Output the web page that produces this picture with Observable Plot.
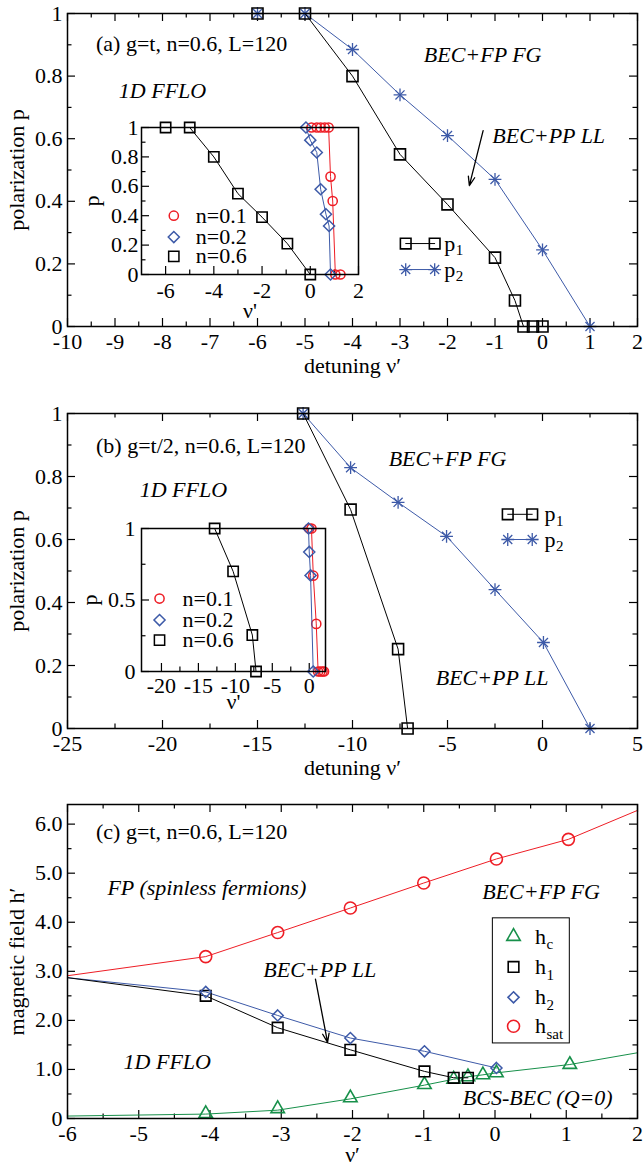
<!DOCTYPE html>
<html><head><meta charset="utf-8">
<script src="https://cdn.jsdelivr.net/npm/d3@7"></script>
<script src="https://cdn.jsdelivr.net/npm/@observablehq/plot@0.6"></script>
<style>
body{margin:0;background:#fff;}
#root{position:relative;width:643px;height:1167px;overflow:hidden;background:#fff;}
#root svg{position:absolute;font-family:"Liberation Serif","Times New Roman",serif;background:transparent;overflow:visible;}
</style></head><body><div id="root"></div>
<script>
// ---------------- DATA ----------------
// Panel (a): g=t
const aTicksX = [-10,-9,-8,-7,-6,-5,-4,-3,-2,-1,0,1,2];
const aMinorX = [-9.5,-8.5,-7.5,-6.5,-5.5,-4.5,-3.5,-2.5,-1.5,-0.5,0.5,1.5];
const aTicksY = [0,0.2,0.4,0.6,0.8,1];
const aMinorY = [0.1,0.3,0.5,0.7,0.9];
const aP1X = [-6,-5,-4,-3,-2,-1,-0.58,-0.4,-0.2,0];
const aP1Y = [1,1,0.8,0.55,0.39,0.22,0.083,0,0,0];
const aP2X = [-6,-5,-4,-3,-2,-1,0,1];
const aP2Y = [1,1,0.885,0.74,0.61,0.47,0.245,0];
// inset (a)
const aiTicksX = [-6,-4,-2,0,2];
const aiMinorX = [-5,-3,-1,1];
const aiTicksY = [0,0.2,0.4,0.6,0.8,1];
const aiMinorY = [0.1,0.3,0.5,0.7,0.9];
const aiN06X = [-6,-5,-4,-3,-2,-0.95,0];
const aiN06Y = [1,1,0.8,0.55,0.39,0.21,0];
const aiN02X = [-0.18,0.0,0.27,0.43,0.65,0.78,0.84];
const aiN02Y = [1,0.914,0.83,0.58,0.41,0.33,0];
const aiN01X = [0.05,0.27,0.43,0.6,0.76,0.84,0.93,1.04,1.25];
const aiN01Y = [1,1,1,1,1,0.666,0.5,0,0];

// Panel (b): g=t/2
const bTicksX = [-25,-20,-15,-10,-5,0,5];
const bMinorX = [-22.5,-17.5,-12.5,-7.5,-2.5,2.5];
const bTicksY = [0,0.2,0.4,0.6,0.8,1];
const bMinorY = [0.1,0.3,0.5,0.7,0.9];
const bP1X = [-12.6,-10.1,-7.6,-7.1];
const bP1Y = [1,0.695,0.252,0];
const bP2X = [-12.6,-10.1,-7.6,-5.05,-2.5,0.05,2.5];
const bP2Y = [1,0.828,0.718,0.61,0.441,0.273,0];
// inset (b)
const biTicksX = [-20,-15,-10,-5,0];
const biMinorX = [-17.5,-12.5,-7.5,-2.5];
const biTicksY = [0,0.5,1];
const biMinorY = [0.25,0.75];
const biN06X = [-12.8,-10.3,-7.7,-7.2];
const biN06Y = [1,0.7,0.255,0];
const biN02X = [-0.1,0.0,0.18,0.54];
const biN02Y = [1,0.836,0.672,0];
const biN01X = [0.0,0.3,0.55,0.95,1.2,1.5,1.8,2.0];
const biN01Y = [1,1,0.67,0.333,0,0,0,0];

// Panel (c): phase diagram
const cTicksX = [-6,-5,-4,-3,-2,-1,0,1,2];
const cMinorX = [-5.5,-4.5,-3.5,-2.5,-1.5,-0.5,0.5,1.5];
const cTicksY = [0,1,2,3,4,5,6];
const cMinorY = [0.5,1.5,2.5,3.5,4.5,5.5];
const hsatX = [-4.06,-3.05,-2.03,-1.0,0.02,1.03];
const hsatY = [3.3,3.79,4.29,4.8,5.29,5.69];
const hsatLineX = [-6,-4.06,-3.05,-2.03,-1.0,0.02,1.03,2];
const hsatLineY = [2.91,3.3,3.79,4.29,4.8,5.29,5.69,6.28];
const h1X = [-4.06,-3.05,-2.03,-0.99,-0.58,-0.38];
const h1Y = [2.5,1.85,1.4,0.96,0.83,0.83];
const h1LineX = [-6,-4.06,-3.05,-2.03,-0.99,-0.58,-0.38];
const h1LineY = [2.87,2.5,1.85,1.4,0.96,0.83,0.83];
const h2X = [-4.06,-3.05,-2.03,-0.99,0.02];
const h2Y = [2.58,2.1,1.64,1.37,1.03];
const h2LineX = [-6,-4.06,-3.05,-2.03,-0.99,0.02];
const h2LineY = [2.87,2.58,2.1,1.64,1.37,1.03];
const hcX = [-4.06,-3.05,-2.03,-0.99,-0.58,-0.38,-0.17,0.02,1.05];
const hcY = [0.1,0.2,0.42,0.69,0.8,0.85,0.89,0.93,1.1];
const hcLineX = [-6,-4.06,-3.05,-2.03,-0.99,-0.58,-0.38,-0.17,0.02,1.05,2];
const hcLineY = [0.05,0.09,0.17,0.4,0.68,0.8,0.85,0.89,0.93,1.1,1.34];

// Text
const aNoteText = ["(a) g=t, n=0.6, L=120","BEC+FP FG","1D FFLO","BEC+PP LL"];
const bNoteText = ["(b) g=t/2, n=0.6, L=120","BEC+FP FG","1D FFLO","BEC+PP LL"];
const cNoteText = ["(c) g=t, n=0.6, L=120","FP (spinless fermions)","BEC+FP FG","BEC+PP LL","1D FFLO","BCS-BEC (Q=0)"];
const pLegend = ["p","p"], pLegendSub = ["1","2"];
const nLegend = ["n=0.1","n=0.2","n=0.6"];
const hLegend = ["h","h","h","h"], hLegendSub = ["c","1","2","sat"];

// ---------------- DRAWING ----------------
const BLUE = "#3d5aa8", RED = "#ee1d25", GREEN = "#17904a";
const FONT = "Liberation Serif";
const FS = 22, SUB = 15;
const root = document.getElementById("root");
const pts = (xs, ys) => xs.map((x, i) => ({x, y: ys[i]}));

function place(svg, left, top) {
  svg.style.left = left + "px"; svg.style.top = top + "px";
  root.appendChild(svg);
}

function panel(cfg) {
  const {W, H, ml, mr, mt, mb, xDomain, yDomain, xMaj, xMin, yMaj, yMin, xFmt, yFmt, mirror, marks} = cfg;
  const majLen = cfg.majLen ?? 8, minLen = cfg.minLen ?? 4.5;
  const iw = W - ml - mr, ih = H - mt - mb;
  const tk = (arr, len, side) => {
    const o = {stroke: "black", strokeWidth: 1.2};
    if (side === "bottom") return Plot.tickX(arr, {x: d => d, insetTop: ih - len, ...o});
    if (side === "top") return Plot.tickX(arr, {x: d => d, insetBottom: ih - len, ...o});
    if (side === "left") return Plot.tickY(arr, {y: d => d, insetRight: iw - len, ...o});
    return Plot.tickY(arr, {y: d => d, insetLeft: iw - len, ...o});
  };
  const sides = mirror ? ["bottom", "top", "left", "right"] : ["bottom", "left"];
  const T = [];
  for (const s of sides) {
    const isX = s === "bottom" || s === "top";
    T.push(tk(isX ? xMaj : yMaj, majLen, s), tk(isX ? xMin : yMin, minLen, s));
  }
  return Plot.plot({
    width: W, height: H, marginLeft: ml, marginRight: mr, marginTop: mt, marginBottom: mb,
    x: {domain: xDomain, label: null},
    y: {domain: yDomain, label: null},
    style: `font-family: 'Liberation Serif', serif; font-size: ${FS}px; background: transparent; overflow: visible; color: black;`,
    marks: [
      ...T,
      Plot.axisX(xMaj, {tickSize: 0, tickPadding: cfg.xPad ?? 7, tickFormat: xFmt, fontSize: FS, fontFamily: FONT, label: null, fill: "black"}),
      Plot.axisY(yMaj, {tickSize: 0, tickPadding: cfg.yPad ?? 5, tickFormat: yFmt, fontSize: FS, fontFamily: FONT, label: null, fill: "black"}),
      ...marks,
      Plot.frame({stroke: "black", strokeWidth: 1.5})
    ]
  });
}

const str = d => String(d);
function series(p, color, symbol, r, sw = 1.6) {
  return [
    Plot.line(p, {x: "x", y: "y", stroke: color, strokeWidth: 1}),
    ...dots(p, color, symbol, r, sw)
  ];
}
function dots(p, color, symbol, r, sw = 1.6) {
  if (symbol === "star") return [
    Plot.dot(p, {x: "x", y: "y", symbol: "plus", r, stroke: color, strokeWidth: 1.3}),
    Plot.dot(p, {x: "x", y: "y", symbol: "times", r, stroke: color, strokeWidth: 1.3})
  ];
  return [Plot.dot(p, {x: "x", y: "y", symbol, r, stroke: color, strokeWidth: sw, fill: "none"})];
}
function xyText(t, x, y, o) { return Plot.text([t], {x: () => x, y: () => y, text: d => d, fontFamily: FONT, lineAnchor: "middle", ...o}); }
function fixNotes(texts, at) {
  return texts.map((t, i) => xyText(t, at[i][0], at[i][1], {textAnchor: at[i][2], fontSize: FS,
    fontStyle: at[i][3] ? "italic" : "normal", fill: "black"}));
}
function axisLabels(xl, yl, xdy, ydx, size = FS) {
  return [
    Plot.text([xl], {frameAnchor: "bottom", dy: xdy, text: d => d, fontSize: size, fontFamily: FONT, fill: "black", textAnchor: "middle", lineAnchor: "middle"}),
    Plot.text([yl], {frameAnchor: "left", dx: ydx, rotate: -90, text: d => d, fontSize: size, fontFamily: FONT, fill: "black", textAnchor: "middle", lineAnchor: "middle"})
  ];
}
function arrow(x1, y1, x2, y2) {
  return Plot.arrow([0], {x1: () => x1, y1: () => y1, x2: () => x2, y2: () => y2,
    stroke: "black", strokeWidth: 1.3, headLength: 11, headAngle: 40});
}
function pLegendMarks(x1, x2, xt, ys) {
  const m = [];
  const styles = [["black", "square", 6], [BLUE, "star", 4.2]];
  ys.forEach((y, i) => {
    const [c, s, r] = styles[i];
    const seg = [{x: x1, y}, {x: x2, y}];
    m.push(Plot.line(seg, {x: "x", y: "y", stroke: c, strokeWidth: 1}), ...dots(seg, c, s, r));
    m.push(xyText(pLegend[i], xt, y, {textAnchor: "start", fontSize: FS, fill: "black"}));
    m.push(xyText(pLegendSub[i], xt, y, {textAnchor: "start", fontSize: SUB, dx: 11.5, dy: 7, fill: "black"}));
  });
  return m;
}
function nLegendMarks(xm, xt, ys, rs) {
  const styles = [[RED, "circle"], [BLUE, "diamond2"], ["black", "square"]];
  const m = [];
  ys.forEach((y, i) => {
    m.push(...dots([{x: xm, y}], styles[i][0], styles[i][1], rs[i], 1.5));
    m.push(xyText(nLegend[i], xt, y, {textAnchor: "start", fontSize: FS, fill: "black"}));
  });
  return m;
}

// ---- Panel (a)
const svgA = panel({
  W: 643, H: 380, ml: 67, mr: 6, mt: 13, mb: 54,
  xDomain: [-10, 2], yDomain: [0, 1],
  xMaj: aTicksX, xMin: aMinorX, yMaj: aTicksY, yMin: aMinorY, xFmt: str, yFmt: str, mirror: true,
  marks: [
    ...series(pts(aP2X, aP2Y), BLUE, "star", 4.2),
    ...series(pts(aP1X, aP1Y), "black", "square", 6.2),
    ...fixNotes(aNoteText, [[-9.4, 0.904, "start", 0], [-1.26, 0.866, "middle", 1], [-8.0, 0.754, "middle", 1], [0.13, 0.61, "middle", 1]]),
    arrow(-1.25, 0.626, -1.54, 0.45),
    ...pLegendMarks(-2.88, -2.27, -2.07, [0.265, 0.182]),
    ...axisLabels("detuning \u03bd\u2032", "polarization p", 39, -51)
  ]
});
place(svgA, 0, 0);

// ---- Panel (b)
const svgB = panel({
  W: 643, H: 410, ml: 67, mr: 6, mt: 33, mb: 62,
  xDomain: [-25, 5], yDomain: [0, 1],
  xMaj: bTicksX, xMin: bMinorX, yMaj: bTicksY, yMin: bMinorY, xFmt: str, yFmt: str, mirror: true,
  marks: [
    ...series(pts(bP2X, bP2Y), BLUE, "star", 4.2),
    ...series(pts(bP1X, bP1Y), "black", "square", 6.2),
    ...fixNotes(bNoteText, [[-23.5, 0.898, "start", 0], [-5.0, 0.857, "middle", 1], [-18.9, 0.758, "middle", 1], [-2.65, 0.159, "middle", 1]]),
    ...pLegendMarks(-1.83, -0.54, 0.1, [0.68, 0.6]),
    ...axisLabels("detuning \u03bd\u2032", "polarization p", 39, -51)
  ]
});
place(svgB, 0, 380);

// ---- Panel (c)
const legBox = {x1: -0.03, x2: 1.05, y1: 1.53, y2: 4.08};
const svgC = panel({
  W: 643, H: 377, ml: 67, mr: 6, mt: 14, mb: 49,
  xDomain: [-6, 2], yDomain: [0, 6.4],
  xMaj: cTicksX, xMin: cMinorX, yMaj: cTicksY, yMin: cMinorY, xFmt: str,
  yFmt: d => d === 0 ? "0" : d.toFixed(1), mirror: true,
  marks: [
    Plot.line(pts(hsatLineX, hsatLineY), {x: "x", y: "y", stroke: RED, strokeWidth: 1}),
    Plot.line(pts(hcLineX, hcLineY), {x: "x", y: "y", stroke: GREEN, strokeWidth: 1}),
    Plot.line(pts(h2LineX, h2LineY), {x: "x", y: "y", stroke: BLUE, strokeWidth: 1}),
    Plot.line(pts(h1LineX, h1LineY), {x: "x", y: "y", stroke: "black", strokeWidth: 1}),
    ...dots(pts(hcX, hcY), GREEN, "triangle", 5, 1.6),
    ...dots(pts(h1X, h1Y), "black", "square", 6, 1.6),
    ...dots(pts(h2X, h2Y), BLUE, "diamond2", 5, 1.5),
    ...dots(pts(hsatX, hsatY), RED, "circle", 6, 1.6),
    ...fixNotes(cNoteText, [[-5.6, 5.84, "start", 0], [-5.44, 4.69, "start", 1], [-0.18, 4.61, "start", 1],
      [-2.46, 3.02, "middle", 1], [-4.6, 1.15, "middle", 1], [0.6, 0.41, "middle", 1]]),
    arrow(-2.52, 2.84, -2.35, 1.55),
    Plot.rect([legBox], {x1: "x1", x2: "x2", y1: "y1", y2: "y2", fill: "white", stroke: "black", strokeWidth: 1}),
    ...[[GREEN, "triangle", 5], ["black", "square", 6], [BLUE, "diamond2", 5], [RED, "circle", 6]].flatMap(([c, s, r], i) => {
      const ly = [3.71, 3.09, 2.47, 1.88][i];
      return [
        ...dots([{x: 0.26, y: ly}], c, s, r, 1.6),
        xyText(hLegend[i], 0.56, ly, {textAnchor: "start", fontSize: FS, fill: "black"}),
        xyText(hLegendSub[i], 0.56, ly, {textAnchor: "start", fontSize: SUB, dx: 11.5, dy: 8, fill: "black"})
      ];
    }),
    ...axisLabels("\u03bd\u2032", "magnetic field h\u2032", 36, -51)
  ]
});
place(svgC, 0, 790);

// ---- Inset (a)
const svgAi = panel({
  W: 295, H: 210, ml: 66, mr: 12, mt: 15, mb: 48,
  xDomain: [-7, 2], yDomain: [0, 1],
  xMaj: aiTicksX, xMin: aiMinorX, yMaj: aiTicksY, yMin: aiMinorY, xFmt: str, yFmt: str, mirror: false,
  xPad: 8, yPad: 3, majLen: 8, minLen: 4.5,
  marks: [
    ...series(pts(aiN01X, aiN01Y), RED, "circle", 4.6, 1.5),
    ...series(pts(aiN02X, aiN02Y), BLUE, "diamond2", 5, 1.5),
    ...series(pts(aiN06X, aiN06Y), "black", "square", 5.8, 1.6),
    ...nLegendMarks(-5.66, -4.75, [0.40, 0.255, 0.124], [4.6, 5, 5.8]),
    ...axisLabels("\u03bd'", "p", 36, -50)
  ]
});
place(svgAi, 75, 112);

// ---- Inset (b)
const svgBi = panel({
  W: 265, H: 200, ml: 66, mr: 15, mt: 15, mb: 42,
  xDomain: [-22.7, 2.2], yDomain: [0, 1],
  xMaj: biTicksX, xMin: biMinorX, yMaj: biTicksY, yMin: biMinorY, xFmt: str, yFmt: str, mirror: false,
  xPad: 6, yPad: 6, majLen: 8, minLen: 4.5,
  marks: [
    ...series(pts(biN01X, biN01Y), RED, "circle", 4.6, 1.5),
    ...series(pts(biN02X, biN02Y), BLUE, "diamond2", 5, 1.5),
    ...series(pts(biN06X, biN06Y), "black", "square", 5.8, 1.6),
    ...nLegendMarks(-20.26, -17.15, [0.51, 0.36, 0.22], [4.6, 5, 5.8]),
    ...axisLabels("\u03bd'", "p", 30, -52)
  ]
});
place(svgBi, 75, 513);
</script>
</body></html>
